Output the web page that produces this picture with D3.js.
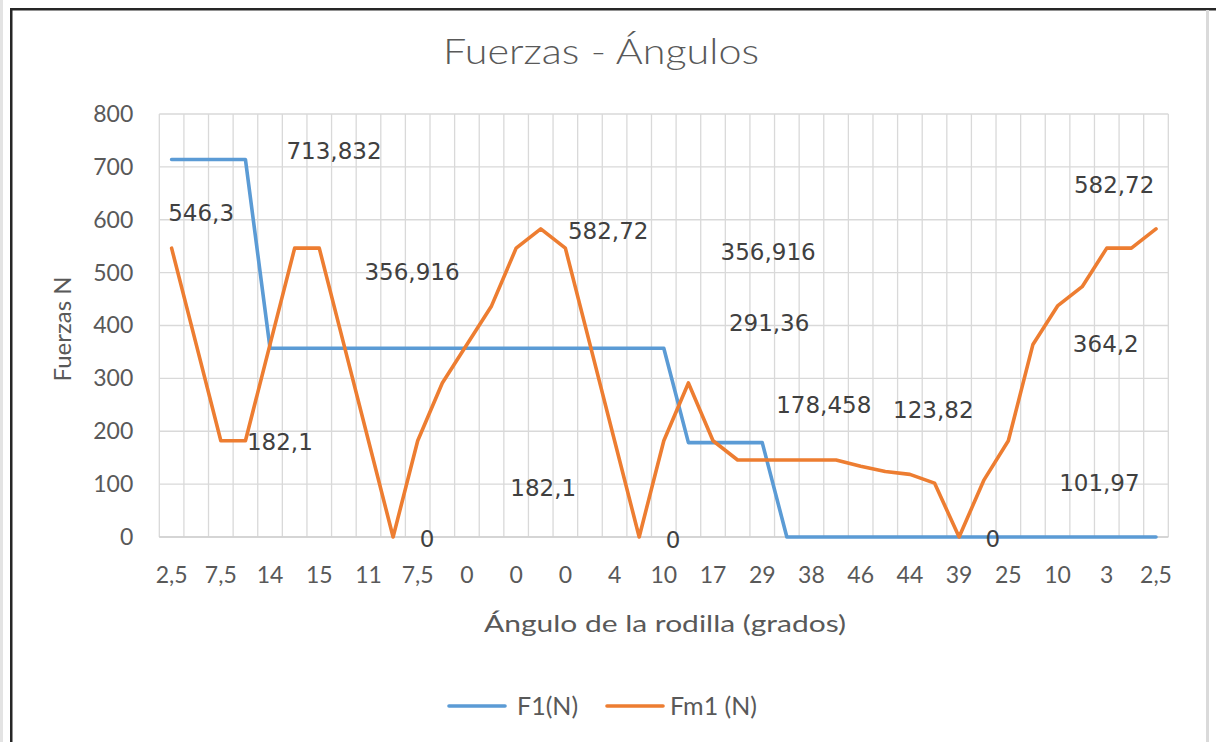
<!DOCTYPE html>
<html>
<head>
<meta charset="utf-8">
<script src="https://cdn.jsdelivr.net/npm/d3@7"></script>
<style>
  html, body { margin: 0; padding: 0; background: #fff; }
  svg { display: block; }
</style>
</head>
<body>
<svg id="chart" width="1216" height="742"></svg>
<script>
// ---------------- data ----------------
const title = "Fuerzas - Ángulos";
const xTitle = "Ángulo de la rodilla (grados)";
const yTitle = "Fuerzas N";
// visible category labels (Excel shows every 2nd of the 41 categories)
const angleLabels = ["2,5","7,5","14","15","11","7,5","0","0","0","4","10","17","29","38","46","44","39","25","10","3","2,5"];
const labelEvery = 2;
const seriesNames = ["F1(N)", "Fm1 (N)"];
const F1 = [713.832,713.832,713.832,713.832,
  356.916,356.916,356.916,356.916,356.916,356.916,356.916,356.916,356.916,356.916,356.916,356.916,356.916,356.916,356.916,356.916,356.916,
  178.458,178.458,178.458,178.458,
  0,0,0,0,0,0,0,0,0,0,0,0,0,0,0,0];
const Fm1 = [546.3,364.2,182.1,182.1,364.2,546.3,546.3,364.2,182.1,0,
  182.1,291.36,364.2,437.04,546.3,582.72,546.3,364.2,182.1,0,
  182.1,291.36,182.1,145.68,145.68,145.68,145.68,145.68,134,123.82,
  118.4,101.97,0,107,182.1,364.2,437.04,473.46,546.3,546.3,582.72];
const yTicks = [0,100,200,300,400,500,600,700,800];
// free-floating data label texts and their anchors (category index, value)
const labelTexts = ["713,832","546,3","356,916","182,1","0","582,72","182,1","0","356,916","291,36","178,458","123,82","0","101,97","364,2","582,72"];
const labelCats  = [6.6,1.2,9.77,4.4,10.38,17.74,15.1,20.38,24.24,24.28,26.5,30.95,33.37,37.7,37.96,38.3];
const labelVals  = [730,612,501,180,-4,578,93,-5,539,404,250,240,-4,102,365,665];
const colors = ["#5B9BD5", "#ED7D31"];

// ---------------- chart ----------------
const FONT = "Lato, 'Open Sans', sans-serif";
const svg = d3.select("#chart");
const plot = {left: 159.3, right: 1168.3, top: 114, bottom: 537};
const n = F1.length;
const idx = d3.range(n);
const x = d3.scaleBand().domain(idx).range([plot.left, plot.right]).paddingInner(0).paddingOuter(0);
const xc = i => x(i) + x.bandwidth() / 2;
const xcf = c => plot.left + (c + 0.5) * x.bandwidth();
const y = d3.scaleLinear().domain([0, 800]).range([plot.bottom, plot.top]);

// frame
svg.append("rect").attr("x", 0).attr("y", 0).attr("width", 3).attr("height", 742).attr("fill", "#e3e3e3");
svg.append("rect").attr("x", 10).attr("y", 8).attr("width", 1206).attr("height", 2.5).attr("fill", "#262626");
svg.append("rect").attr("x", 10).attr("y", 8).attr("width", 2.5).attr("height", 734).attr("fill", "#262626");
svg.append("rect").attr("x", 1206).attr("y", 10).attr("width", 3).attr("height", 732).attr("fill", "#dadada");

// gridlines
const grid = svg.append("g").attr("stroke", "#d9d9d9").attr("stroke-width", 1.3);
grid.selectAll("line.h").data(yTicks).join("line")
  .attr("x1", plot.left).attr("x2", plot.right)
  .attr("y1", d => y(d)).attr("y2", d => y(d));
grid.selectAll("line.v").data(d3.range(n + 1)).join("line")
  .attr("x1", d => plot.left + d * x.bandwidth()).attr("x2", d => plot.left + d * x.bandwidth())
  .attr("y1", plot.top).attr("y2", plot.bottom);

// y axis labels
const yAxis = d3.axisLeft(y).tickValues(yTicks).tickSize(0).tickPadding(0).tickFormat(d3.format("d"));
const gy = svg.append("g").attr("transform", `translate(${plot.left - 26},0)`).call(yAxis);
gy.select(".domain").remove();
gy.selectAll("text").attr("font-size", 23).style("font-family", FONT).attr("fill", "#595959");

// x axis labels
const xAxis = d3.axisBottom(x).tickSize(0).tickPadding(0)
  .tickValues(idx.filter(i => i % labelEvery === 0))
  .tickFormat(i => angleLabels[i / labelEvery]);
const gx = svg.append("g").attr("transform", `translate(0,${plot.bottom + 30})`).call(xAxis);
gx.select(".domain").remove();
gx.selectAll("text").attr("font-size", 23).style("font-family", FONT).attr("fill", "#595959");

// bottom axis line
svg.append("line").attr("x1", plot.left).attr("x2", plot.right).attr("y1", plot.bottom).attr("y2", plot.bottom)
  .attr("stroke", "#d0d0d0").attr("stroke-width", 1.3);

// lines
const line = d3.line().x((d, i) => xc(i)).y(d => y(d));
[F1, Fm1].forEach((s, k) => {
  svg.append("path").datum(s).attr("d", line).attr("fill", "none")
    .attr("stroke", colors[k]).attr("stroke-width", 3.6)
    .attr("stroke-linejoin", "round").attr("stroke-linecap", "round");
});

// data labels
svg.append("g").selectAll("text").data(labelTexts).join("text")
  .attr("x", (d, i) => xcf(labelCats[i]))
  .attr("y", (d, i) => y(labelVals[i]))
  .attr("text-anchor", "middle").attr("dominant-baseline", "central")
  .style("font-family", "'DejaVu Sans', sans-serif").attr("font-size", 23)
  .attr("fill", "#404040").text(d => d);

// title
svg.append("text").attr("x", 601).attr("y", 64).attr("text-anchor", "middle")
  .style("font-family", FONT).attr("font-weight", 300)
  .attr("font-size", 36).attr("fill", "#595959")
  .attr("textLength", 316).attr("lengthAdjust", "spacingAndGlyphs").text(title);

// axis titles
svg.append("text").attr("x", 665).attr("y", 632).attr("text-anchor", "middle")
  .style("font-family", FONT).attr("font-size", 23).attr("fill", "#595959")
  .attr("textLength", 362).attr("lengthAdjust", "spacingAndGlyphs").text(xTitle);
svg.append("text").attr("transform", "translate(71,329) rotate(-90)").attr("text-anchor", "middle")
  .style("font-family", FONT).attr("font-size", 24).attr("fill", "#595959")
  .text(yTitle);

// legend
const legX = [449, 607];
const legTextX = [517, 670];
seriesNames.forEach((name, k) => {
  svg.append("line").attr("x1", legX[k]).attr("x2", legX[k] + 56).attr("y1", 706).attr("y2", 706)
    .attr("stroke", colors[k]).attr("stroke-width", 3.6).attr("stroke-linecap", "round");
  svg.append("text").attr("x", legTextX[k]).attr("y", 715)
    .style("font-family", FONT).attr("font-size", 25).attr("fill", "#595959")
    .text(name);
});
</script>
</body>
</html>
